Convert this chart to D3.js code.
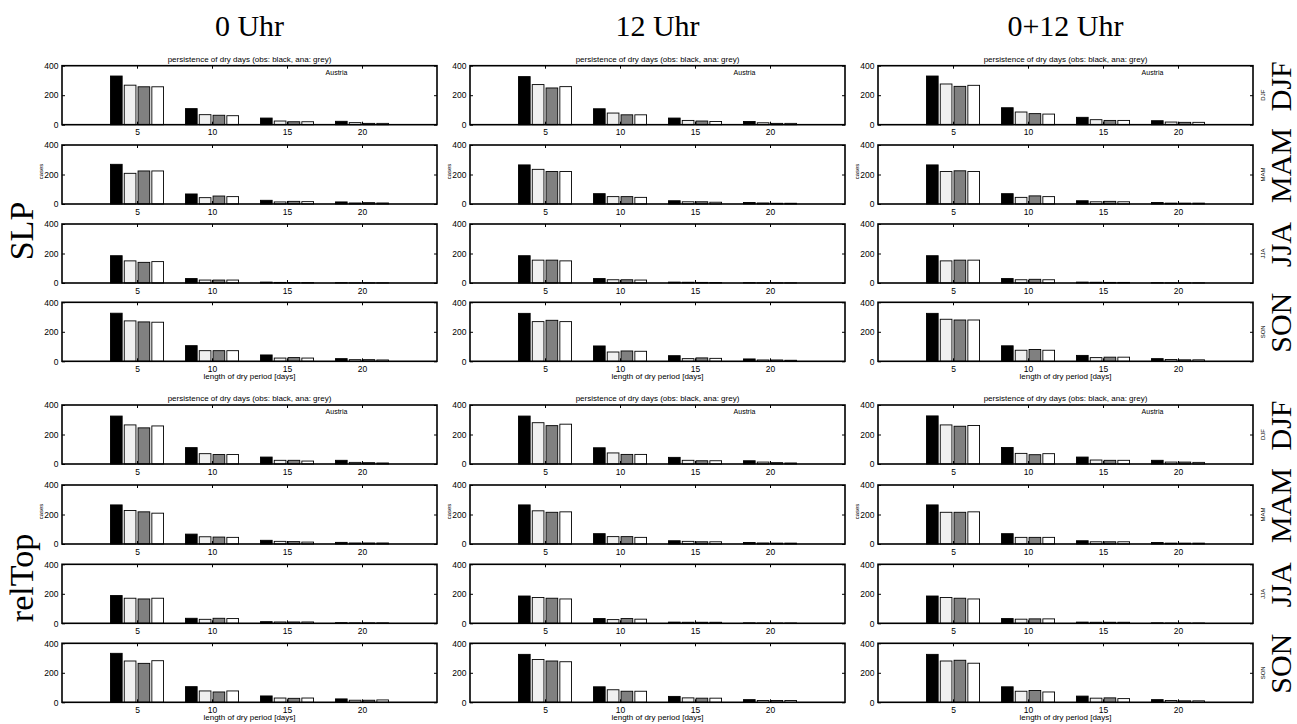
<!DOCTYPE html>
<html>
<head>
<meta charset="utf-8">
<script src="https://cdn.jsdelivr.net/npm/d3@7"></script>
<style>
body { margin: 0; background: #fff; }
svg text { font-family: "Liberation Sans", Arial, sans-serif; fill: #000; }
svg text.big { font-family: "Liberation Serif", "Times New Roman", serif; }
</style>
</head>
<body>
<svg id="fig" width="1297" height="724"></svg>
<script>
/* column titles, row groups, seasons */
var COLUMNS = ["0 Uhr", "12 Uhr", "0+12 Uhr"];
var FIELDS = ["SLP", "relTop"];
var SEASONS = ["DJF", "MAM", "JJA", "SON"];
var LENGTHS = [5, 10, 15, 20];          // length of dry period [days]
var SERIES = ["obs", "ana1", "ana2", "ana3"];
var X_TICKS = [5, 10, 15, 20];
var Y_TICKS = [0, 200, 400];

/* cases per season -> per length -> [obs, ana1, ana2, ana3] */
var slp0 = [
    [[330, 268, 257, 257], [109, 68, 64, 61], [45, 25, 20, 20], [23, 14, 9, 9]],
    [[269, 208, 224, 224], [68, 43, 54, 50], [25, 14, 18, 16], [14, 7, 9, 7]],
    [[185, 150, 140, 145], [30, 20, 20, 20], [6, 4, 3, 3], [2, 1, 1, 1]],
    [[326, 274, 267, 265], [106, 72, 72, 72], [43, 22, 25, 22], [18, 11, 11, 9]]
];
var slp12 = [
    [[326, 272, 249, 258], [108, 79, 67, 67], [45, 29, 25, 22], [22, 13, 9, 9]],
    [[265, 235, 220, 220], [70, 50, 50, 45], [22, 15, 15, 12], [10, 7, 5, 5]],
    [[185, 155, 155, 150], [30, 22, 22, 20], [6, 5, 4, 3], [2, 1, 1, 1]],
    [[325, 269, 278, 269], [104, 63, 70, 68], [38, 18, 23, 20], [16, 9, 9, 7]]
];
var slp012 = [
    [[330, 276, 260, 267], [115, 86, 75, 72], [50, 34, 29, 29], [27, 18, 16, 16]],
    [[265, 220, 225, 220], [70, 45, 55, 50], [22, 15, 18, 15], [10, 6, 6, 6]],
    [[185, 150, 155, 155], [30, 22, 25, 22], [6, 5, 4, 4], [2, 1, 1, 1]],
    [[325, 285, 280, 280], [105, 75, 80, 75], [40, 25, 28, 28], [18, 12, 10, 10]]
];
var rel0 = [
    [[325, 265, 245, 258], [111, 70, 64, 64], [47, 25, 25, 20], [25, 11, 9, 7]],
    [[265, 227, 218, 209], [67, 49, 47, 45], [25, 18, 16, 13], [11, 7, 7, 7]],
    [[188, 170, 165, 170], [34, 27, 34, 32], [11, 9, 9, 9], [4, 3, 3, 3]],
    [[332, 280, 264, 282], [106, 77, 70, 77], [43, 29, 27, 29], [23, 14, 14, 16]]
];
var rel12 = [
    [[325, 280, 260, 270], [110, 75, 65, 65], [45, 25, 22, 22], [22, 13, 9, 7]],
    [[265, 225, 215, 218], [70, 50, 50, 45], [22, 18, 15, 15], [10, 7, 6, 6]],
    [[185, 175, 170, 165], [32, 25, 32, 28], [8, 7, 7, 7], [3, 2, 2, 2]],
    [[325, 290, 280, 275], [105, 85, 75, 75], [40, 30, 28, 28], [18, 12, 12, 12]]
];
var rel012 = [
    [[326, 265, 256, 261], [112, 72, 63, 70], [47, 27, 25, 25], [25, 13, 13, 11]],
    [[265, 215, 215, 218], [70, 45, 45, 45], [22, 15, 15, 15], [10, 6, 6, 6]],
    [[185, 175, 170, 165], [32, 28, 30, 30], [8, 7, 7, 7], [3, 2, 2, 2]],
    [[325, 280, 285, 265], [105, 75, 80, 70], [42, 28, 30, 25], [18, 12, 10, 10]]
];

var DATA = [[slp0, slp12, slp012], [rel0, rel12, rel012]];
var FILLS = ["#000000", "#f0f0f0", "#808080", "#ffffff"];

/* layout */
var COL_LEFT = [62, 470, 878];
var ROW_TOP = [65.7, 145, 224, 302.3, 405, 485, 564.3, 643.3];
var PLOT_W = 375, PLOT_H = 59;
var FIELD_CENTER = [231, 578];

var svg = d3.select("#fig");

var x = d3.scaleLinear().domain([0, 25]).range([0, PLOT_W]);
var y = d3.scaleLinear().domain([0, 400]).range([PLOT_H, 0]);
var inner = d3.scaleBand().domain(d3.range(SERIES.length)).range([-1.77, 1.77]).paddingInner(0.152);

function drawPanel(g, values, fi, si, ci) {
    /* bars */
    LENGTHS.forEach(function (len, li) {
        g.append("g").selectAll("rect")
            .data(values[li]).enter()
            .append("rect")
            .attr("x", function (d, i) { return x(len + inner(i)); })
            .attr("width", x(inner.bandwidth()) - x(0))
            .attr("y", function (d) { return y(d); })
            .attr("height", function (d) { return y(0) - y(d); })
            .attr("fill", function (d, i) { return FILLS[i]; })
            .attr("stroke", "#000")
            .attr("stroke-width", 0.9);
    });

    /* axes, ticks inward like matlab */
    var bottom = g.append("g").attr("transform", "translate(0," + PLOT_H + ")")
        .call(d3.axisBottom(x).tickValues(X_TICKS).tickSizeInner(-3).tickSizeOuter(0).tickPadding(4.5));
    var left = g.append("g")
        .call(d3.axisLeft(y).tickValues(Y_TICKS).tickSizeInner(-3).tickSizeOuter(0).tickPadding(3.5));
    var top = g.append("g")
        .call(d3.axisTop(x).tickValues(X_TICKS).tickSizeInner(-3).tickSizeOuter(0).tickFormat(""));
    var right = g.append("g").attr("transform", "translate(" + PLOT_W + ",0)")
        .call(d3.axisRight(y).tickValues(Y_TICKS).tickSizeInner(-3).tickSizeOuter(0).tickFormat(""));

    [bottom, left, top, right].forEach(function (a) {
        a.select(".domain").remove();
        a.selectAll("line").attr("stroke", "#000").attr("stroke-width", 1);
        a.selectAll("text").attr("font-size", 8.5).attr("font-family", "Liberation Sans, Arial, sans-serif").attr("fill", "#000");
    });

    g.append("rect")
        .attr("width", PLOT_W).attr("height", PLOT_H)
        .attr("fill", "none").attr("stroke", "#000").attr("stroke-width", 1.6);

    if (si === 0) {
        g.append("text")
            .attr("x", PLOT_W / 2).attr("y", -4)
            .attr("text-anchor", "middle").attr("font-size", 8)
            .text("persistence of dry days (obs: black, ana: grey)");
        g.append("text")
            .attr("x", x(18.3)).attr("y", 9)
            .attr("text-anchor", "middle").attr("font-size", 7)
            .text("Austria");
    }
    if (si === 1) {
        g.append("text")
            .attr("transform", "translate(-19," + (PLOT_H / 2 - 3) + ") rotate(-90)")
            .attr("text-anchor", "middle").attr("font-size", 6)
            .text("cases");
    }
    if (si === 3) {
        g.append("text")
            .attr("x", PLOT_W / 2).attr("y", PLOT_H + 18)
            .attr("text-anchor", "middle").attr("font-size", 8)
            .text("length of dry period [days]");
    }
    if (ci === 2) {
        g.append("text")
            .attr("transform", "translate(" + (PLOT_W + 12) + "," + (PLOT_H / 2) + ") rotate(-90)")
            .attr("text-anchor", "middle").attr("font-size", 6)
            .text(SEASONS[si]);
    }
}

FIELDS.forEach(function (field, fi) {
    COLUMNS.forEach(function (col, ci) {
        SEASONS.forEach(function (season, si) {
            var row = fi * 4 + si;
            var g = svg.append("g")
                .attr("transform", "translate(" + COL_LEFT[ci] + "," + ROW_TOP[row] + ")");
            drawPanel(g, DATA[fi][ci][si], fi, si, ci);
        });
    });

    /* big field label on the left */
    svg.append("text").classed("big", true)
        .attr("transform", "translate(33," + FIELD_CENTER[fi] + ") rotate(-90)")
        .attr("text-anchor", "middle").attr("font-size", 34)
        .text(field);

    /* big season labels on the right */
    SEASONS.forEach(function (season, si) {
        var cy = ROW_TOP[fi * 4 + si] + PLOT_H / 2 - 9;
        svg.append("text").classed("big", true)
            .attr("transform", "translate(1291," + cy + ") rotate(-90)")
            .attr("text-anchor", "middle").attr("font-size", 30)
            .text(season);
    });
});

/* column titles */
COLUMNS.forEach(function (col, ci) {
    svg.append("text").classed("big", true)
        .attr("x", COL_LEFT[ci] + PLOT_W / 2).attr("y", 36)
        .attr("text-anchor", "middle").attr("font-size", 30)
        .text(col);
});
</script>
</body>
</html>
